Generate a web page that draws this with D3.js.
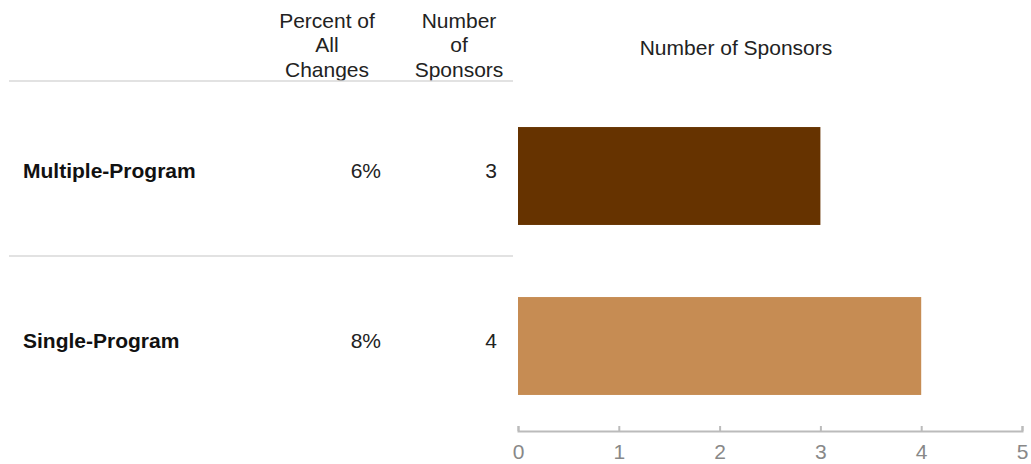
<!DOCTYPE html>
<html><head><meta charset="utf-8">
<script src="https://cdn.jsdelivr.net/npm/d3@7"></script>
<style>body{margin:0;background:#fff}</style>
</head><body>
<svg id="c" width="1031" height="464" font-family="'Liberation Sans', Arial, Helvetica, sans-serif"></svg>
<script>
const categories = ["Multiple-Program", "Single-Program"];
const percentOfAll = ["6%", "8%"];
const sponsors = [3, 4];
const colors = ["#663300", "#C68C53"];
const ticks = [0, 1, 2, 3, 4, 5];
const headerPct = ["Percent of", "All", "Changes"];
const headerNum = ["Number", "of", "Sponsors"];
const chartTitle = "Number of Sponsors";

const FS = 21;
const svg = d3.select("#c");
const x = d3.scaleLinear().domain([0, 5]).range([518, 1022]);
const row = d3.scaleBand().domain(categories).range([91, 431]);
const barH = row.step() * 0.576;
const barOff = (row.step() - barH) / 2;

const hdr = (lines, cx) => {
  const t = svg.append("text").attr("text-anchor", "middle").attr("font-size", FS).attr("fill", "#222");
  lines.forEach((l, i) => t.append("tspan").attr("x", cx).attr("y", 27.5 + i * 24.5).text(l));
};
hdr(headerPct, 327);
hdr(headerNum, 459);
svg.append("text").attr("x", 736).attr("y", 54.5).attr("text-anchor", "middle").attr("font-size", FS).attr("fill", "#222").text(chartTitle);

svg.append("line").attr("x1", 9).attr("x2", 513).attr("y1", 81).attr("y2", 81).attr("stroke", "#d9d9d9").attr("stroke-width", 1.5);
categories.slice(1).forEach(c => {
  svg.append("line").attr("x1", 9).attr("x2", 513).attr("y1", row(c) - 5).attr("y2", row(c) - 5).attr("stroke", "#d9d9d9").attr("stroke-width", 1.5);
});

categories.forEach((c, i) => {
  const base = row(c) + row.step() / 2 + 1.5;
  svg.append("text").attr("x", 23).attr("y", base).attr("font-size", FS).attr("font-weight", "bold").attr("fill", "#111").text(c);
  svg.append("text").attr("x", 381).attr("y", base).attr("text-anchor", "end").attr("font-size", FS).attr("fill", "#222").text(percentOfAll[i]);
  svg.append("text").attr("x", 497).attr("y", base).attr("text-anchor", "end").attr("font-size", FS).attr("fill", "#222").text(sponsors[i]);
  svg.append("rect").attr("x", x(0)).attr("y", row(c) + barOff).attr("width", x(sponsors[i]) - x(0)).attr("height", barH).attr("fill", colors[i]);
});

const ax = svg.append("g").attr("transform", "translate(0,431)")
  .call(d3.axisBottom(x).tickValues(ticks).tickFormat(d3.format("d")).tickSizeOuter(0).tickSize(-5).tickPadding(13.5));
ax.select(".domain").attr("stroke", "#bbb").attr("stroke-width", 2);
ax.selectAll(".tick line").attr("stroke", "#bbb").attr("stroke-width", 2);
ax.selectAll(".tick text").attr("fill", "#888").attr("font-size", FS).attr("font-family", "'Liberation Sans', Arial, sans-serif");
</script>
</body></html>
